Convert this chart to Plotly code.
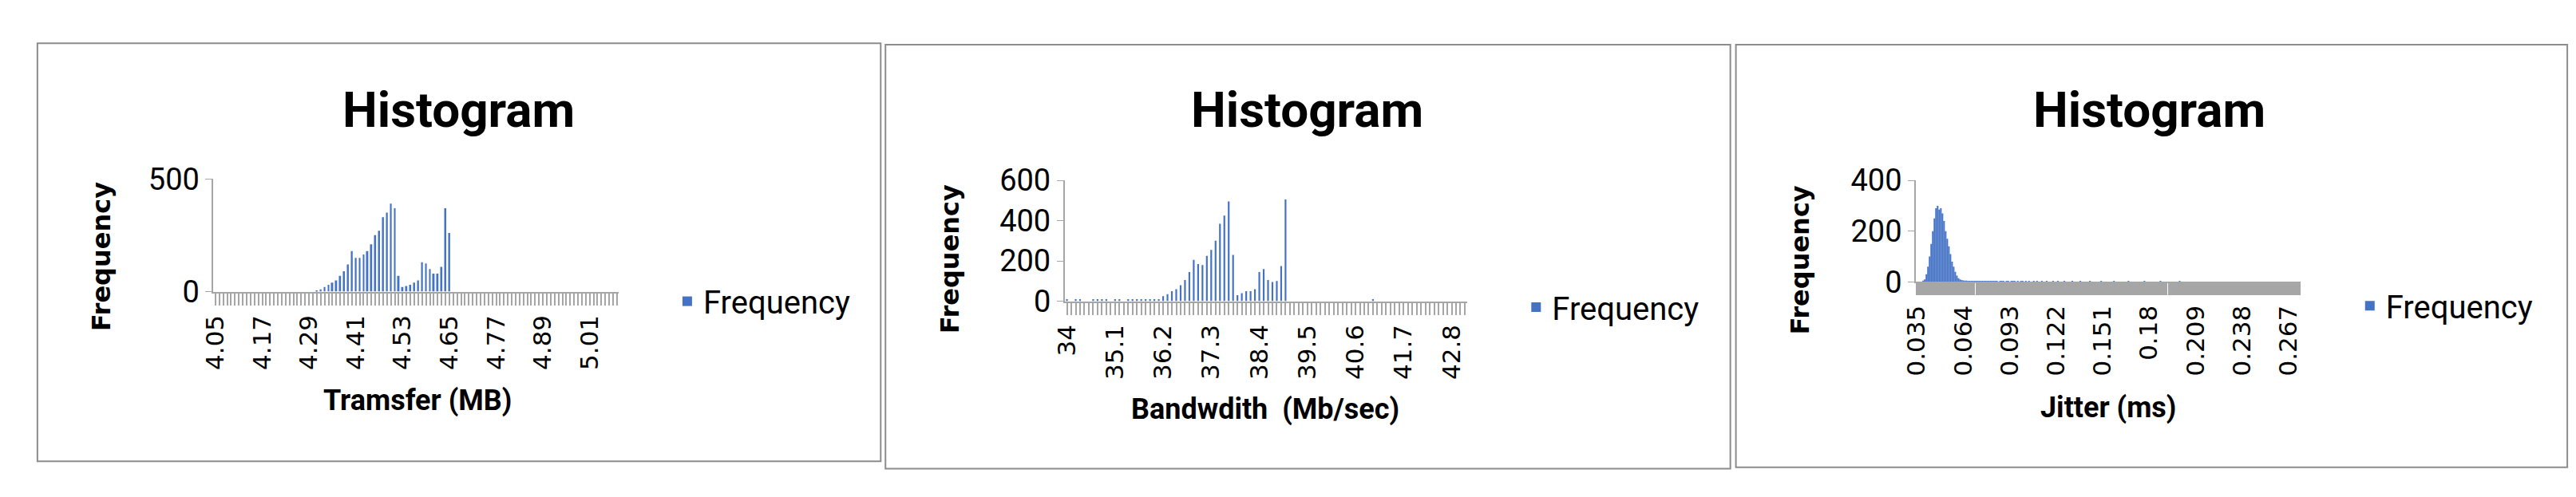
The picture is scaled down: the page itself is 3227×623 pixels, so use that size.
import plotly.graph_objects as go

W, H = 3227, 623
BLUE = "#4472C4"
GRAY = "#A6A6A6"

# ---------------- data ----------------
transfer_cats = ["%.2f" % ((405 + i) / 100) for i in range(104)]
transfer_freq = ([0] * 26 +
                 [5, 10, 20, 30, 40, 50, 70, 90, 120, 180, 150, 150, 165, 180, 210, 250, 270, 330,
                  350, 390, 370, 70, 20, 25, 30, 40, 50, 130, 125, 100, 80, 80, 110, 370, 260, 0] +
                 [0] * 42)
transfer_labels = ["4.05", "4.17", "4.29", "4.41", "4.53", "4.65", "4.77", "4.89", "5.01"]

bw_cats = ["%.1f" % ((340 + i) / 10) for i in range(92)]
bw_freq = ([10, 0, 10, 10, 0, 0, 10, 10, 10, 10, 0, 10, 10, 0, 10, 10, 10, 10, 10, 10, 10] +
           [10, 25, 35, 50, 60, 80, 105, 145, 205, 185, 180, 225, 255, 300, 385, 425, 495, 230,
            30, 40, 50, 50, 60, 145, 160, 105, 95, 100, 175, 505] +
           [0] * 19 + [10] + [0] * 21)
bw_labels = ["34.0", "35.1", "36.2", "37.3", "38.4", "39.5", "40.6", "41.7", "42.8"]
bw_text = {"34.0": "34"}

jit_cats = [("%.3f" % ((35 + i) / 1000)).rstrip("0") for i in range(248)]
jit_freq = ([0, 0, 0, 0, 5] +
            [10, 30, 60, 100, 150, 200, 250, 290, 300, 285, 290, 270, 240, 200, 170, 140, 110,
             80, 60, 40, 25, 15, 10, 8, 6, 5, 5, 4, 4, 3, 3] +
            [3, 3, 2, 3, 2, 2, 3, 2, 2, 2, 2, 3, 2, 2, 2, 1, 2, 2, 2, 1, 2, 2, 1, 2, 2, 2, 1, 2,
             1, 2, 2, 1, 2, 1, 2, 1, 1, 2, 1, 2, 1, 1, 2, 1, 1, 2, 1, 1, 1, 2, 1, 1, 2, 1, 1, 1,
             2, 1, 1, 1, 1, 2, 1, 1, 1, 1, 2, 1, 1, 1, 1, 1, 2, 1, 1, 1, 1, 1, 1, 2, 1, 1, 1, 1,
             1, 1, 1, 2, 1, 1, 1, 1, 1, 1, 1, 1, 2, 1, 1, 1, 1, 1, 1, 1, 1, 1, 2, 1, 1, 1, 0, 1,
             1, 1, 1, 1, 2, 1, 1, 0, 1, 1, 1, 1, 1, 1, 0, 1, 2, 1, 1, 0, 1, 1, 1, 0, 1, 1, 1, 1,
             0, 1, 1, 0, 1, 1, 1, 0, 1, 1, 0, 1, 1, 1, 0, 1, 0, 1, 1, 0, 1, 1, 0, 1, 0, 1, 1, 0,
             1, 0, 1, 0, 1, 1, 0, 1, 0, 1, 0, 0, 1, 0, 1, 0, 1, 0, 0, 1, 0, 1, 0, 0, 1, 0, 0, 1,
             0, 0, 1, 0, 0, 0, 0, 0])
jit_labels = ["0.035", "0.064", "0.093", "0.122", "0.151", "0.18", "0.209", "0.238", "0.267"]

# ---------------- layout helpers ----------------
def px(x): return x / W
def py(y): return 1 - y / H

panels = [
    dict(cats=transfer_cats, vals=transfer_freq, labels=transfer_labels, text={},
         x0=243, x1=754, ytop=209, ybot=361, ymax=500, dtick=500, width=0.4,
         box=(21, 26, 1084, 590), title=(552, 116), ytitle=(101, 314), xtitle=(500, 508),
         xt="Tramsfer (MB)", leg=(820, 374)),
    dict(cats=bw_cats, vals=bw_freq, labels=bw_labels, text=bw_text,
         x0=1316, x1=1823, ytop=211, ybot=374, ymax=600, dtick=200, width=0.4,
         box=(1090, 28, 2155, 600), title=(1622, 116), ytitle=(1171, 317), xtitle=(1569, 520),
         xt="Bandwdith  (Mb/sec)", leg=(1890, 382)),
    dict(cats=jit_cats, vals=jit_freq, labels=jit_labels, text={},
         x0=2389, x1=2874, ytop=211, ybot=348, ymax=400, dtick=200, width=1.0,
         box=(2162, 28, 3210, 598), title=(2683, 116), ytitle=(2243, 319), xtitle=(2631, 518),
         xt="Jitter (ms)", leg=(2941, 380)),
]

NARROW = "Liberation Sans Narrow, Roboto, sans-serif"
fig = go.Figure()
annotations, shapes = [], []
for i, p in enumerate(panels, start=1):
    sfx = "" if i == 1 else str(i)
    fig.add_trace(go.Bar(x=p["cats"], y=p["vals"], name="Frequency", marker_color=BLUE,
                         marker_line_width=0, width=p["width"],
                         xaxis="x" + sfx, yaxis="y" + sfx,
                         legend="legend" + sfx, showlegend=True))
    ticktext = [p["text"].get(c, c) if c in p["labels"] else "" for c in p["cats"]]
    fig.update_layout(**{
        "xaxis" + sfx: dict(domain=[px(p["x0"]), px(p["x1"])], anchor="y" + sfx,
                            type="category", tickmode="array", tickvals=p["cats"],
                            ticktext=ticktext, tickangle=-90, ticks="outside", ticklen=15,
                            tickwidth=2, tickcolor=GRAY, showline=True, linecolor=GRAY,
                            linewidth=2, showgrid=False,
                            tickfont=dict(family="DejaVu Sans", size=31, color="#000")),
        "yaxis" + sfx: dict(domain=[py(p["ybot"]), py(p["ytop"])], anchor="x" + sfx,
                            range=[0, p["ymax"]], dtick=p["dtick"], showgrid=False,
                            showline=True, linecolor=GRAY, linewidth=2, ticks="outside",
                            ticklen=8, tickcolor=GRAY, zeroline=False,
                            tickfont=dict(family=NARROW, size=38, color="#000")),
        "legend" + sfx: dict(x=px(p["leg"][0]), y=py(p["leg"][1]), xanchor="left",
                             yanchor="middle", font=dict(family=NARROW, size=40, color="#000"),
                             itemwidth=30, bgcolor="rgba(0,0,0,0)"),
    })
    bx0, by0, bx1, by1 = p["box"]
    shapes.append(dict(type="rect", xref="paper", yref="paper", x0=px(bx0), x1=px(bx1),
                       y0=py(by1), y1=py(by0), line=dict(color="#8C8C8C", width=2)))
    annotations += [
        dict(text="<b>Histogram</b>", x=px(p["title"][0]), y=py(p["title"][1]),
             font=dict(family=NARROW, size=62, color="#000")),
        dict(text="<b>Frequency</b>", x=px(p["ytitle"][0]), y=py(p["ytitle"][1]), textangle=-90,
             font=dict(family="DejaVu Sans", size=32, color="#000")),
        dict(text="<b>" + p["xt"] + "</b>", x=px(p["xtitle"][0]), y=py(p["xtitle"][1]),
             font=dict(family=NARROW, size=36, color="#000")),
    ]
for a in annotations:
    a.update(xref="paper", yref="paper", showarrow=False, xanchor="center", yanchor="middle")

fig.update_layout(width=W, height=H, margin=dict(l=0, r=0, t=0, b=0),
                  paper_bgcolor="white", plot_bgcolor="white",
                  annotations=annotations, shapes=shapes)
fig.write_html("out.html")
